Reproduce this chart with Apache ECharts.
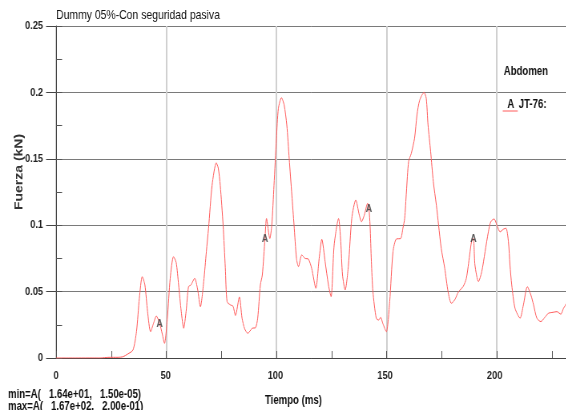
<!DOCTYPE html>
<html>
<head>
<meta charset="utf-8">
<script src="https://cdn.jsdelivr.net/npm/echarts@6/dist/echarts.min.js"></script>
<style>
  html, body { margin: 0; padding: 0; background: #fff; }
  #frame { width: 566px; height: 410px; overflow: hidden; position: relative; background: #fff; }
  .layer { height: 410px; position: absolute; left: 0; top: 0; transform-origin: 0 0; }
  #timeLabels { pointer-events: none; }
</style>
</head>
<body>
<div id="frame"><div id="chart" class="layer"></div><div id="timeLabels" class="layer"></div></div>
<script>
// Abdomen force trace, JT-76 channel
const chartTitle = 'Dummy 05%-Con seguridad pasiva';
const xAxisTitle = 'Tiempo (ms)';
const yAxisTitle = 'Fuerza (kN)';
const legendGroup = 'Abdomen';
const seriesName = 'JT-76:';
const curveLetter = 'A';
const minNote = 'min=A(   1.64e+01,   1.50e-05)';
const maxNote = 'max=A(   1.67e+02,   2.00e-01)';

const xTickValues = [0, 50, 100, 150, 200];
const yTickValues = [0, 0.05, 0.1, 0.15, 0.2, 0.25];

// time (ms)
const timeMs = [
  0, 10, 16.4, 20, 24, 28, 30.4, 32.5, 34.9, 36.5, 37.8, 39.1, 40.3, 41.5, 42.9, 44.2, 45.5, 47.0, 48.2,
  49.2, 50.5, 51.8, 53.3, 54.5, 55.6, 56.8, 57.9, 59, 60.1, 61.2, 62.9, 64.2, 65.5, 67, 68.2, 69.2,
  70.8, 72.7, 73.6, 74.5, 75.8, 76.8, 77.6, 79.1, 80.3, 81.4, 83.2, 84.4, 85.6, 87, 89, 90.5, 91.5,
  92.7, 93.6, 94.8, 95.5, 97, 97.9, 98.9, 100, 100.9, 102.3, 103.5, 104.7, 105.8, 107, 108, 109.1,
  110, 111.5, 113, 114.5, 116, 117.9, 119.4, 120.6, 122.1, 123.6, 124.8, 126.2, 128.2, 129.2, 130,
  131.2, 132.7, 134.2, 136, 137.6, 138.6, 139.9, 141.4, 142.0, 142.5, 143.1, 143.8, 145.3, 146.4,
  147.3, 148.3, 149.9, 151.4, 152.9, 154.4, 156.4, 157.4, 158.2, 159, 160, 161.2, 162.7, 163.8, 165,
  167.0, 168.0, 168.8, 170, 171.2, 172.6, 173.6, 174.8, 176.4, 177.9, 179.4, 180.9, 182.7, 184.7,
  186.2, 187.7, 188.6, 189.4, 190.1, 191.7, 193.2, 194.7, 196.2, 197.3, 198.8, 200.3, 201.5, 203,
  204.2, 205.3, 206, 206.8, 208.3, 210.6, 212.1, 213.9, 215.5, 216.7, 218.2, 220, 221.5, 223.5,
  225.5, 227.3, 229.1, 230.3, 231.8
];

// force (kN)
const forceKN = [
  0, 0, 0.000015, 0, 0.0005, 0.0005, 0.001, 0.003, 0.006, 0.02, 0.045, 0.0612, 0.055, 0.035, 0.0198, 0.026, 0.0316, 0.026, 0.018,
  0.011, 0.03, 0.06, 0.0763, 0.072, 0.055, 0.035, 0.0224, 0.035, 0.0537, 0.055, 0.060, 0.052, 0.0386, 0.0575, 0.08, 0.0977,
  0.130, 0.147, 0.143, 0.130, 0.100, 0.068, 0.0424, 0.040, 0.039, 0.032, 0.046, 0.030, 0.022, 0.0186, 0.0224, 0.0228, 0.030,
  0.055, 0.0625, 0.09, 0.105, 0.090, 0.100, 0.130, 0.165, 0.188, 0.196, 0.1905, 0.1755, 0.150, 0.1227, 0.100, 0.075,
  0.0688, 0.0776, 0.075, 0.0745, 0.0675, 0.0525, 0.075, 0.0894, 0.0725, 0.055, 0.0462, 0.085, 0.105, 0.0876, 0.0625,
  0.0512, 0.070, 0.105, 0.119, 0.1077, 0.1026, 0.1077, 0.1165, 0.112, 0.100, 0.0725, 0.050, 0.030, 0.0286,
  0.0306, 0.026, 0.0198, 0.0424, 0.080, 0.0896, 0.090, 0.0977, 0.105, 0.125, 0.148, 0.154, 0.1655, 0.183, 0.194,
  0.200, 0.1955, 0.1755, 0.1553, 0.1328, 0.115, 0.100, 0.0826, 0.0675, 0.050, 0.0412, 0.0437, 0.050, 0.0537,
  0.060, 0.0776, 0.088, 0.090, 0.070, 0.0575, 0.065, 0.080, 0.095, 0.1026, 0.1047, 0.0989, 0.095, 0.097,
  0.0977, 0.0876, 0.070, 0.055, 0.0374, 0.030, 0.040, 0.0537, 0.0474, 0.040, 0.030, 0.0274, 0.030, 0.0337,
  0.0344, 0.0349, 0.033, 0.0374, 0.0412
];

// sample times where the curve letter is printed
const letterTimes = [47.0, 94.8, 142.0, 189.4];

// The plot is drawn wide and squeezed horizontally so the lettering comes out condensed.
const SQUEEZE = 0.8;
const W = 566 / SQUEEZE;
const sx = v => v / SQUEEZE;
const FONT = "'Liberation Sans', Arial, sans-serif";
const X_MAX = 231.8;

const mainEl = document.getElementById('chart');
const tickEl = document.getElementById('timeLabels');
[mainEl, tickEl].forEach(d => {
  d.style.width = W + 'px';
  d.style.transform = 'scaleX(' + SQUEEZE + ')';
});

const curve = timeMs.map((t, i) => [t, forceKN[i]]);
const letterPoints = letterTimes.map(t => {
  const i = timeMs.indexOf(t);
  return [timeMs[i], forceKN[i]];
});

const xLabelFmt = v => {
  const hit = xTickValues.find(x => Math.abs(x - v) < 1e-6);
  return hit === undefined ? '' : String(hit);
};
const yLabelFmt = v => {
  const hit = yTickValues.find(y => Math.abs(y - v) < 1e-9);
  return hit === undefined ? '' : String(hit);
};

const txt = (text, x, y, font, align) => ({
  type: 'text', x: sx(x), y: y,
  style: { text: text, align: align || 'left', verticalAlign: 'middle', font: font, fill: '#111' }
});

const plotRect = { left: sx(56), right: 0, top: 26, bottom: 52, containLabel: false };

// main chart: axes, grid lines, trace, notes
const chart = echarts.init(mainEl, null, { renderer: 'canvas', width: W, height: 410 });
chart.setOption({
  animation: false,
  backgroundColor: '#fff',
  title: {
    text: chartTitle,
    left: sx(56), top: 9, padding: 0,
    textStyle: { fontFamily: FONT, fontSize: 13, fontWeight: 'normal', color: '#111' }
  },
  grid: Object.assign({}, plotRect),
  xAxis: [
    {
      // small inner ticks every 25 ms
      type: 'value', min: 0, max: X_MAX, interval: 25,
      axisLine: { show: true, lineStyle: { color: '#444' } },
      axisTick: { show: true, inside: true, length: 7, lineStyle: { color: '#555' } },
      axisLabel: { show: false },
      splitLine: { show: false }
    },
    {
      // light vertical grid every 50 ms
      type: 'value', min: 0, max: X_MAX, interval: 50, position: 'bottom',
      axisLine: { show: false },
      axisTick: { show: false },
      axisLabel: { show: false },
      splitLine: { show: true, lineStyle: { color: '#d0d0d0', width: 2 } }
    }
  ],
  yAxis: [
    {
      type: 'value', min: 0, max: 0.25, interval: 0.05,
      axisLine: { show: true, lineStyle: { color: '#444' } },
      axisTick: { show: true, inside: false, length: sx(10), lineStyle: { color: '#444' } },
      axisLabel: {
        formatter: yLabelFmt, margin: sx(13),
        fontFamily: FONT, fontSize: 11.5, fontWeight: 'bold', color: '#222'
      },
      splitLine: { show: true, lineStyle: { color: '#7a7a7a', width: 1 } }
    },
    {
      type: 'value', min: 0, max: 0.25, interval: 0.025, position: 'left',
      axisLine: { show: false },
      axisTick: { show: true, inside: true, length: sx(6), lineStyle: { color: '#555' } },
      axisLabel: { show: false },
      splitLine: { show: false }
    }
  ],
  series: [
    {
      name: seriesName,
      type: 'line',
      xAxisIndex: 0, yAxisIndex: 0,
      data: curve,
      smooth: 0.25,
      symbol: 'none',
      lineStyle: { color: '#ff5a5a', width: 1 },
      z: 3
    },
    {
      name: curveLetter,
      type: 'scatter',
      xAxisIndex: 0, yAxisIndex: 0,
      data: letterPoints,
      symbolSize: 1,
      itemStyle: { color: 'rgba(0,0,0,0)' },
      label: {
        show: true, position: 'inside', formatter: curveLetter,
        fontFamily: FONT, fontSize: 11, fontWeight: 'bold', color: '#333'
      },
      z: 4
    }
  ],
  graphic: [
    {
      type: 'text', x: sx(19), y: 172, rotation: Math.PI / 2,
      style: {
        text: yAxisTitle, align: 'center', verticalAlign: 'middle',
        font: "bold 14px " + FONT, fill: '#333'
      }
    },
    txt(xAxisTitle, 293, 401, "bold 12px " + FONT, 'center'),
    txt(minNote, 8, 395, "bold 12px " + FONT),
    txt(maxNote, 8, 407, "bold 12px " + FONT),
    txt(legendGroup, 503, 72, "bold 12px " + FONT),
    {
      type: 'line', shape: { x1: sx(502), y1: 111, x2: sx(517), y2: 111 },
      style: { stroke: '#ff5a5a', lineWidth: 1 }
    },
    txt(curveLetter, 510, 105, "bold 12px " + FONT, 'center'),
    txt(seriesName, 518, 105, "bold 12px " + FONT)
  ]
});

// time tick labels on a transparent layer with the same plot rectangle
const tickChart = echarts.init(tickEl, null, { renderer: 'canvas', width: W, height: 410 });
tickChart.setOption({
  animation: false,
  backgroundColor: 'transparent',
  grid: Object.assign({}, plotRect),
  xAxis: {
    type: 'value', min: 0, max: X_MAX, interval: 50,
    axisLine: { show: false },
    axisTick: { show: false },
    axisLabel: {
      formatter: xLabelFmt, margin: 12, showMinLabel: true,
      fontFamily: FONT, fontSize: 11.5, fontWeight: 'bold', color: '#222'
    },
    splitLine: { show: false }
  },
  yAxis: { type: 'value', min: 0, max: 0.25, show: false },
  series: []
});
</script>
</body>
</html>
